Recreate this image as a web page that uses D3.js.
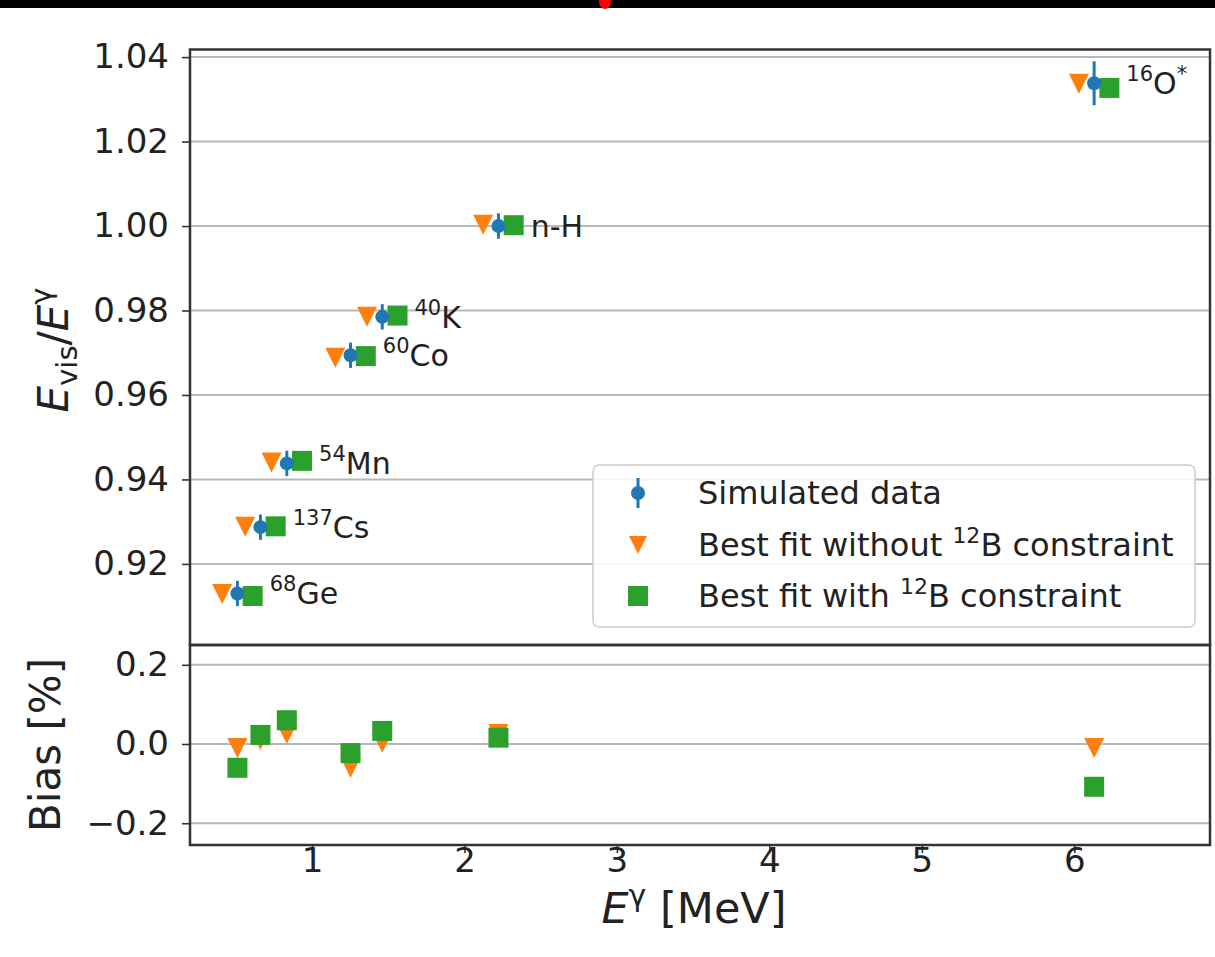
<!DOCTYPE html>
<html>
<head>
<meta charset="utf-8">
<script src="https://cdn.jsdelivr.net/npm/d3@7"></script>
<style>
  html, body { margin: 0; padding: 0; background: #fff; }
  svg { display: block; font-family: "DejaVu Sans", sans-serif; }
</style>
</head>
<body>
<svg id="chart" width="1215" height="957"></svg>
<script>
// ---- data ----
const sources   = ["68Ge", "137Cs", "54Mn", "60Co", "40K", "n-H", "16O*"];
const labelMass = ["68", "137", "54", "60", "40", "", "16"];
const labelName = ["Ge", "Cs", "Mn", "Co", "K", "n-H", "O"];
const labelPost = ["", "", "", "", "", "", "*"];
const energies  = [0.511, 0.662, 0.835, 1.253, 1.461, 2.223, 6.13];
const simValues = [0.9130, 0.9287, 0.9438, 0.9694, 0.9785, 1.0000, 1.0338];
const simErrors = [0.0030, 0.0030, 0.0030, 0.0030, 0.0030, 0.0030, 0.0052];
const fitNoB12  = [0.9129, 0.9288, 0.9440, 0.9688, 0.9785, 1.0003, 1.0337];
const fitWithB12= [0.9124, 0.9289, 0.9444, 0.9692, 0.9788, 1.0002, 1.0327];
const biasNoB12  = [-0.010, 0.010, 0.025, -0.060, 0.003, 0.025, -0.010];
const biasWithB12= [-0.060, 0.023, 0.060, -0.023, 0.033, 0.016, -0.108];
const dodge = 0.1; // MeV horizontal offset of fit markers in top panel
const topTicks = [0.92, 0.94, 0.96, 0.98, 1.00, 1.02, 1.04];
const botTicks = [-0.2, 0.0, 0.2];
const xTicks   = [1, 2, 3, 4, 5, 6];
const legendItems = ["Simulated data", "Best fit without ", "Best fit with "];

const C_BLUE = "#1f77b4", C_ORANGE = "#ff7f0e", C_GREEN = "#2ca02c";

const svg = d3.select("#chart");

// top black strip with red dot
svg.append("rect").attr("x",0).attr("y",0).attr("width",1215).attr("height",8).attr("fill","#000");
svg.append("ellipse").attr("cx",605).attr("cy",2).attr("rx",6).attr("ry",7).attr("fill","#f00");

const L = 190, R = 1210;
const topY0 = 49.5, topY1 = 645, botY0 = 645, botY1 = 845;

const x = d3.scaleLinear().domain([0.2, 6.89]).range([L, R]);
const yTop = d3.scaleLinear().domain([0.9008, 1.0418]).range([topY1, topY0]);
const yBot = d3.scaleLinear().domain([-0.255, 0.25]).range([botY1, botY0]);

// grid
svg.append("g").selectAll("line").data(topTicks).join("line")
  .attr("x1", L).attr("x2", R)
  .attr("y1", d => yTop(d)).attr("y2", d => yTop(d))
  .attr("stroke", "#b8b8b8").attr("stroke-width", 2);
svg.append("g").selectAll("line").data(botTicks).join("line")
  .attr("x1", L).attr("x2", R)
  .attr("y1", d => yBot(d)).attr("y2", d => yBot(d))
  .attr("stroke", "#b8b8b8").attr("stroke-width", 2);

// axes
const fmtTop = d3.format(".2f");
const fmtBot = d => (d < 0 ? "\u2212" : "") + Math.abs(d).toFixed(1);
const axTop = svg.append("g").attr("transform", `translate(${L},0)`)
  .call(d3.axisLeft(yTop).tickValues(topTicks).tickFormat(fmtTop).tickSize(8).tickPadding(13));
const axBot = svg.append("g").attr("transform", `translate(${L},0)`)
  .call(d3.axisLeft(yBot).tickValues(botTicks).tickFormat(fmtBot).tickSize(8).tickPadding(13));
const axX = svg.append("g").attr("transform", `translate(0,${botY1})`)
  .call(d3.axisBottom(x).tickValues(xTicks).tickFormat(d3.format("d")).tickSize(8).tickPadding(8));
[axTop, axBot, axX].forEach(a => {
  a.select(".domain").remove();
  a.selectAll(".tick line").attr("stroke", "#333").attr("stroke-width", 1.6);
  a.selectAll(".tick text").attr("fill", "#222").attr("font-size", 34)
    .attr("font-family", "DejaVu Sans");
});
axX.selectAll(".tick text").attr("y", 27).attr("dy", "0");

// frames
svg.append("rect").attr("x", L).attr("y", topY0).attr("width", R - L).attr("height", topY1 - topY0)
  .attr("fill", "none").attr("stroke", "#333").attr("stroke-width", 2.5);
svg.append("rect").attr("x", L).attr("y", botY0).attr("width", R - L).attr("height", botY1 - botY0)
  .attr("fill", "none").attr("stroke", "#333").attr("stroke-width", 2.5);

const tri = s => `M${-s},${-s}L${s},${-s}L0,${s}Z`;

// top panel markers
const idx = d3.range(energies.length);
const gTop = svg.append("g");
gTop.selectAll("path.tri").data(idx).join("path").attr("class","tri")
  .attr("d", tri(10))
  .attr("transform", i => `translate(${x(energies[i] - dodge)},${yTop(fitNoB12[i])})`)
  .attr("fill", C_ORANGE);
gTop.selectAll("rect.sq").data(idx).join("rect").attr("class","sq")
  .attr("x", i => x(energies[i] + dodge) - 10).attr("y", i => yTop(fitWithB12[i]) - 10)
  .attr("width", 20).attr("height", 20).attr("fill", C_GREEN);
gTop.selectAll("line.err").data(idx).join("line").attr("class","err")
  .attr("x1", i => x(energies[i])).attr("x2", i => x(energies[i]))
  .attr("y1", i => yTop(simValues[i] - simErrors[i]))
  .attr("y2", i => yTop(simValues[i] + simErrors[i]))
  .attr("stroke", C_BLUE).attr("stroke-width", 3);
gTop.selectAll("circle.sim").data(idx).join("circle").attr("class","sim")
  .attr("cx", i => x(energies[i])).attr("cy", i => yTop(simValues[i]))
  .attr("r", 7).attr("fill", C_BLUE);

// labels
const lab = gTop.selectAll("text.lab").data(idx).join("text").attr("class","lab")
  .attr("x", i => x(energies[i] + dodge) + 17)
  .attr("y", i => yTop(simValues[i]) + 11)
  .attr("font-size", 30).attr("fill", "#222");
lab.each(function(i) {
  const t = d3.select(this);
  if (labelMass[i]) {
    t.append("tspan").attr("font-size", 21).attr("dy", -13).text(labelMass[i]);
    t.append("tspan").attr("dy", 13).text(labelName[i]);
  } else {
    t.append("tspan").text(labelName[i]);
  }
  if (labelPost[i]) {
    t.append("tspan").attr("font-size", 21).attr("dy", -13).text(labelPost[i]);
  }
});

// bottom panel markers
const gBot = svg.append("g");
gBot.selectAll("path.tri").data(idx).join("path").attr("class","tri")
  .attr("d", tri(10))
  .attr("transform", i => `translate(${x(energies[i])},${yBot(biasNoB12[i])})`)
  .attr("fill", C_ORANGE);
gBot.selectAll("rect.sq").data(idx).join("rect").attr("class","sq")
  .attr("x", i => x(energies[i]) - 10).attr("y", i => yBot(biasWithB12[i]) - 10)
  .attr("width", 20).attr("height", 20).attr("fill", C_GREEN);

// legend
const lg = svg.append("g");
lg.append("rect").attr("x", 593).attr("y", 465).attr("width", 602).attr("height", 162)
  .attr("rx", 6).attr("fill", "#fff").attr("fill-opacity", 0.85)
  .attr("stroke", "#cccccc").attr("stroke-width", 1.5);
const rows = [493, 545, 596];
lg.append("line").attr("x1", 638).attr("x2", 638).attr("y1", rows[0] - 15).attr("y2", rows[0] + 15)
  .attr("stroke", C_BLUE).attr("stroke-width", 3);
lg.append("circle").attr("cx", 638).attr("cy", rows[0]).attr("r", 7).attr("fill", C_BLUE);
lg.append("path").attr("d", tri(9)).attr("transform", `translate(638,${rows[1]})`).attr("fill", C_ORANGE);
lg.append("rect").attr("x", 628).attr("y", rows[2] - 10).attr("width", 20).attr("height", 20).attr("fill", C_GREEN);
legendItems.forEach((txt, k) => {
  const t = lg.append("text").attr("x", 698).attr("y", rows[k] + 11)
    .attr("font-size", 32).attr("fill", "#222");
  t.append("tspan").text(txt);
  if (k > 0) {
    t.append("tspan").attr("font-size", 22).attr("dy", -13).text("12");
    t.append("tspan").attr("dy", 13).text("B constraint");
  }
});

// axis labels
const yl = svg.append("text").attr("transform", `translate(68,350) rotate(-90)`)
  .attr("text-anchor", "middle").attr("font-size", 42).attr("fill", "#222");
yl.append("tspan").attr("font-style", "italic").text("E");
yl.append("tspan").attr("font-size", 29).attr("dy", 9).text("vis");
yl.append("tspan").attr("dy", -9).text("/");
yl.append("tspan").attr("font-style", "italic").text("E");
yl.append("tspan").attr("font-size", 29).attr("dy", -17).text("\u03b3");

svg.append("text").attr("transform", `translate(60,745) rotate(-90)`)
  .attr("text-anchor", "middle").attr("font-size", 42).attr("fill", "#222").text("Bias [%]");

const xl = svg.append("text").attr("x", 694).attr("y", 923)
  .attr("text-anchor", "middle").attr("font-size", 43).attr("fill", "#222");
xl.append("tspan").attr("font-style", "italic").text("E");
xl.append("tspan").attr("font-size", 30).attr("dy", -17).text("\u03b3");
xl.append("tspan").attr("dy", 17).text(" [MeV]");
</script>
</body>
</html>
